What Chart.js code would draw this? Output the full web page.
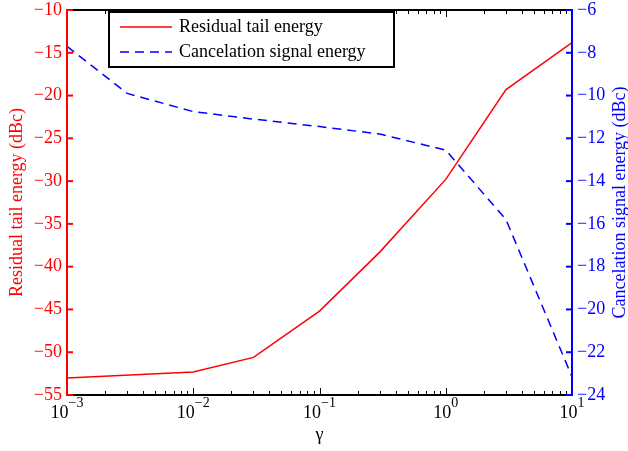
<!DOCTYPE html>
<html>
<head>
<meta charset="utf-8">
<script src="https://cdn.jsdelivr.net/npm/chart.js@4.4.0/dist/chart.umd.min.js"></script>
<style>
  html, body { margin: 0; padding: 0; background: #fff; }
  #wrap { width: 628px; height: 451px; position: relative; }
</style>
</head>
<body>
<div id="wrap"><canvas id="c"></canvas></div>
<script>
// gamma values (x axis, log)
var gammaRed = [0.001, 0.01, 0.03, 0.1, 0.3, 1, 3, 10];
var residualTail = [-53.0, -52.3, -50.6, -45.2, -38.3, -29.8, -19.3, -13.8];

var gammaBlue = [0.001, 0.003, 0.01, 0.03, 0.1, 0.3, 1, 3, 10];
var cancelSignal = [-7.7, -9.9, -10.75, -11.1, -11.45, -11.8, -12.55, -15.8, -23.15];

var xTicks = [0.001, 0.01, 0.1, 1, 10];
var xTickExp = ['\u22123', '\u22122', '\u22121', '0', '1'];
var leftTicks = [-10, -15, -20, -25, -30, -35, -40, -45, -50, -55];
var rightTicks = [-6, -8, -10, -12, -14, -16, -18, -20, -22, -24];

var FONT = '18px "Liberation Serif", "Times New Roman", serif';

function minus(v) { return String(v).replace('-', '\u2212'); }

// draws the MATLAB-style frame, inward ticks, labels and legend
var matlabAxes = {
  id: 'matlabAxes',
  afterDatasetsDraw: function (chart) {
    var ctx = chart.ctx;
    var a = chart.chartArea;
    var xs = chart.scales.x, yl = chart.scales.yL, yr = chart.scales.yR;
    ctx.save();

    // x ticks (bottom and top), major + minor
    ctx.strokeStyle = '#000';
    ctx.lineWidth = 1;
    for (var d = 0; d < xTicks.length; d++) {
      for (var m = 1; m < 10; m++) {
        var v = xTicks[d] * m;
        if (v > xTicks[xTicks.length - 1]) break;
        var px = Math.round(xs.getPixelForValue(v)) + 0.5;
        var len = m === 1 ? 7 : 4;
        ctx.beginPath();
        ctx.moveTo(px, a.bottom); ctx.lineTo(px, a.bottom - len);
        ctx.moveTo(px, a.top); ctx.lineTo(px, a.top + len);
        ctx.stroke();
      }
    }

    // frame
    ctx.lineWidth = 2;
    ctx.strokeStyle = '#000';
    ctx.beginPath();
    ctx.moveTo(a.left, a.top); ctx.lineTo(a.right, a.top);
    ctx.moveTo(a.left, a.bottom); ctx.lineTo(a.right, a.bottom);
    ctx.stroke();
    ctx.strokeStyle = '#ff0000';
    ctx.beginPath(); ctx.moveTo(a.left, a.top - 1); ctx.lineTo(a.left, a.bottom + 1); ctx.stroke();
    ctx.strokeStyle = '#0000ff';
    ctx.beginPath(); ctx.moveTo(a.right, a.top - 1); ctx.lineTo(a.right, a.bottom + 1); ctx.stroke();

    // y ticks + labels
    ctx.font = FONT;
    ctx.textBaseline = 'middle';
    ctx.lineWidth = 2;
    ctx.strokeStyle = '#ff0000';
    ctx.fillStyle = '#ff0000';
    ctx.textAlign = 'right';
    leftTicks.forEach(function (t) {
      var py = yl.getPixelForValue(t);
      ctx.beginPath(); ctx.moveTo(a.left, py); ctx.lineTo(a.left + 6, py); ctx.stroke();
      ctx.fillText(minus(t), a.left - 5, py);
    });
    ctx.strokeStyle = '#0000ff';
    ctx.fillStyle = '#0000ff';
    ctx.textAlign = 'left';
    rightTicks.forEach(function (t) {
      var py = yr.getPixelForValue(t);
      ctx.beginPath(); ctx.moveTo(a.right, py); ctx.lineTo(a.right - 6, py); ctx.stroke();
      ctx.fillText(minus(t), a.right + 5, py);
    });

    // x tick labels 10^n
    ctx.fillStyle = '#000';
    ctx.textBaseline = 'alphabetic';
    xTicks.forEach(function (t, i) {
      var px = xs.getPixelForValue(t);
      ctx.font = FONT;
      var wb = ctx.measureText('10').width;
      ctx.font = '14px "Liberation Serif", serif';
      var we = ctx.measureText(xTickExp[i]).width;
      var x0 = px - (wb + we) / 2;
      ctx.font = FONT;
      ctx.textAlign = 'left';
      ctx.fillText('10', x0, a.bottom + 23);
      ctx.font = '14px "Liberation Serif", serif';
      ctx.fillText(xTickExp[i], x0 + wb, a.bottom + 12);
    });
    ctx.font = FONT;
    ctx.textAlign = 'center';
    ctx.fillText('\u03b3', (a.left + a.right) / 2, a.bottom + 45);

    // axis titles
    ctx.save();
    ctx.translate(17, (a.top + a.bottom) / 2);
    ctx.rotate(-Math.PI / 2);
    ctx.fillStyle = '#ff0000';
    ctx.textBaseline = 'middle';
    ctx.fillText('Residual tail energy (dBc)', 0, 0);
    ctx.restore();
    ctx.save();
    ctx.translate(620, (a.top + a.bottom) / 2);
    ctx.rotate(-Math.PI / 2);
    ctx.fillStyle = '#0000ff';
    ctx.textBaseline = 'middle';
    ctx.fillText('Cancelation signal energy (dBc)', 0, 0);
    ctx.restore();

    // legend
    var lx = 109, ly = 12, lw = 285, lh = 55;
    ctx.fillStyle = '#fff';
    ctx.fillRect(lx, ly, lw, lh);
    ctx.strokeStyle = '#000';
    ctx.lineWidth = 2;
    ctx.strokeRect(lx, ly, lw, lh);
    ctx.lineWidth = 1.5;
    ctx.strokeStyle = '#ff0000';
    ctx.beginPath(); ctx.moveTo(120, 27); ctx.lineTo(172, 27); ctx.stroke();
    ctx.strokeStyle = '#0000ff';
    ctx.setLineDash([9, 6]);
    ctx.beginPath(); ctx.moveTo(120, 52); ctx.lineTo(172, 52); ctx.stroke();
    ctx.setLineDash([]);
    ctx.fillStyle = '#000';
    ctx.textAlign = 'left';
    ctx.textBaseline = 'middle';
    ctx.fillText('Residual tail energy', 179, 27);
    ctx.fillText('Cancelation signal energy', 179, 52);

    ctx.restore();
  }
};

new Chart(document.getElementById('c'), {
  type: 'line',
  data: {
    datasets: [{
      label: 'Residual tail energy',
      data: gammaRed.map(function (g, i) { return { x: g, y: residualTail[i] }; }),
      borderColor: '#ff0000',
      borderWidth: 1.5,
      pointRadius: 0,
      tension: 0,
      yAxisID: 'yL'
    }, {
      label: 'Cancelation signal energy',
      data: gammaBlue.map(function (g, i) { return { x: g, y: cancelSignal[i] }; }),
      borderColor: '#0000ff',
      borderWidth: 1.5,
      borderDash: [9, 6],
      pointRadius: 0,
      tension: 0,
      yAxisID: 'yR'
    }]
  },
  options: {
    responsive: true,
    maintainAspectRatio: false,
    animation: false,
    layout: { padding: { left: 67, right: 56, top: 10, bottom: 56 } },
    plugins: { legend: { display: false }, tooltip: { enabled: false } },
    scales: {
      x: { type: 'logarithmic', min: 0.001, max: 10, display: false },
      yL: { type: 'linear', position: 'left', min: -55, max: -10, display: false },
      yR: { type: 'linear', position: 'right', min: -24, max: -6, display: false }
    }
  },
  plugins: [matlabAxes]
});
</script>
</body>
</html>
